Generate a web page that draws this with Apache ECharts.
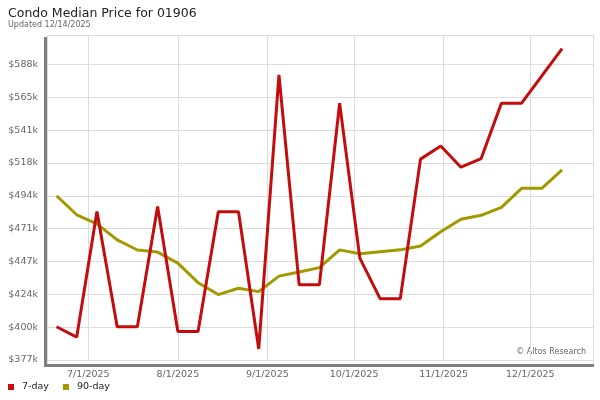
<!DOCTYPE html>
<html>
<head>
<meta charset="utf-8">
<script src="https://cdn.jsdelivr.net/npm/echarts@6/dist/echarts.min.js"></script>
<style>html,body{margin:0;padding:0;background:#fff}#c{width:600px;height:400px}</style>
</head>
<body>
<div id="c"></div>
<script>
const dates = ['2025-06-20','2025-06-27','2025-07-04','2025-07-11','2025-07-18','2025-07-25',
  '2025-08-01','2025-08-08','2025-08-15','2025-08-22','2025-08-29','2025-09-05','2025-09-12',
  '2025-09-19','2025-09-26','2025-10-03','2025-10-10','2025-10-17','2025-10-24','2025-10-31',
  '2025-11-07','2025-11-14','2025-11-21','2025-11-28','2025-12-05','2025-12-12'];
const sevenDay = [400300, 392900, 482700, 400300, 400300, 486300, 396900, 396900, 482500, 482500,
  384400, 580400, 430300, 430300, 560200, 449400, 420400, 420400, 520200, 529600,
  514400, 520600, 560200, 560200, 579700, 599300];
const ninetyDay = [494000, 480400, 473900, 462400, 455200, 453700, 445800, 431800, 423300, 427800,
  425400, 436500, 439500, 442600, 455300, 452500, 453900, 455300, 458100, 468200,
  477200, 480000, 485700, 499300, 499300, 512500];
const yTickLabels = ['$377k','$400k','$424k','$447k','$471k','$494k','$518k','$541k','$565k','$588k'];
const xTickLabels = {6:'7/1/2025',7:'8/1/2025',8:'9/1/2025',9:'10/1/2025',10:'11/1/2025',11:'12/1/2025'};
const titleText = 'Condo Median Price for 01906';
const subText = 'Updated 12/14/2025';

const yMin = 376500, yStep = 23500, yMax = 609000;
const FONT = 'DejaVu Sans';
const RED = '#c40c0c', OLIVE = '#a09a00';

const chart = echarts.init(document.getElementById('c'), null, {renderer:'canvas'});
chart.setOption({
  animation: false,
  backgroundColor: '#fff',
  title: {
    left: 3, top: 2, itemGap: 1,
    text: titleText, subtext: subText,
    textStyle: {fontFamily: FONT, fontSize: 12.5, fontWeight: 'normal', color: '#222'},
    subtextStyle: {fontFamily: FONT, fontSize: 8, color: '#666'}
  },
  legend: {
    left: 3, top: 377, icon: 'rect', itemWidth: 6, itemHeight: 6, itemGap: 14,
    textStyle: {fontFamily: FONT, fontSize: 9.5, color: '#222', padding: [0,0,0,3]},
    data: ['7-day','90-day']
  },
  grid: {left: 47, top: 35, right: 7, bottom: 40, containLabel: false, show: false},
  xAxis: {
    type: 'time',
    min: new Date(2025,5,16,17).getTime(),
    max: new Date(2025,11,22,17).getTime(),
    splitNumber: 6,
    axisLine: {show: false},
    axisTick: {show: false},
    splitLine: {show: true, lineStyle: {color: '#dcdcdc', width: 1}},
    axisLabel: {
      fontFamily: FONT, fontSize: 9.5, color: '#666', margin: 10,
      showMinLabel: false, showMaxLabel: false,
      formatter: function (v) {
        const d = new Date(v);
        if (d.getDate() === 1 && d.getHours() === 0) return xTickLabels[d.getMonth()] || '';
        return '';
      }
    }
  },
  yAxis: {
    type: 'value', min: yMin, max: yMax, interval: yStep,
    axisLine: {show: false}, axisTick: {show: false},
    splitLine: {show: true, lineStyle: {color: '#dcdcdc', width: 1}},
    axisLabel: {
      fontFamily: FONT, fontSize: 9.5, color: '#666', margin: 9,
      formatter: function (v) {
        const i = Math.round((v - yMin) / yStep);
        if (Math.abs(v - (yMin + i * yStep)) < 1 && yTickLabels[i]) return yTickLabels[i];
        return '';
      }
    }
  },
  series: [
    {name: '7-day', type: 'line', data: dates.map((d,i)=>[d, sevenDay[i]]), symbol: 'none',
     lineStyle: {color: RED, width: 3}, itemStyle: {color: RED}, z: 3},
    {name: '90-day', type: 'line', data: dates.map((d,i)=>[d, ninetyDay[i]]), symbol: 'none',
     lineStyle: {color: OLIVE, width: 3}, itemStyle: {color: OLIVE}, z: 2}
  ],
  graphic: [
    {type: 'rect', shape: {x: 47.5, y: 35.5, width: 546, height: 329}, style: {fill: 'none', stroke: '#dcdcdc', lineWidth: 1}, z: -1, silent: true},
    {type: 'rect', shape: {x: 44, y: 37, width: 3, height: 330}, style: {fill: '#808080'}, silent: true},
    {type: 'rect', shape: {x: 44, y: 364, width: 550, height: 3}, style: {fill: '#808080'}, silent: true},
    {type: 'text', right: 14, top: 348, style: {text: '\u00a9 Altos Research', font: '8px "DejaVu Sans"', fill: '#666'}, silent: true}
  ]
});
</script>
</body>
</html>
